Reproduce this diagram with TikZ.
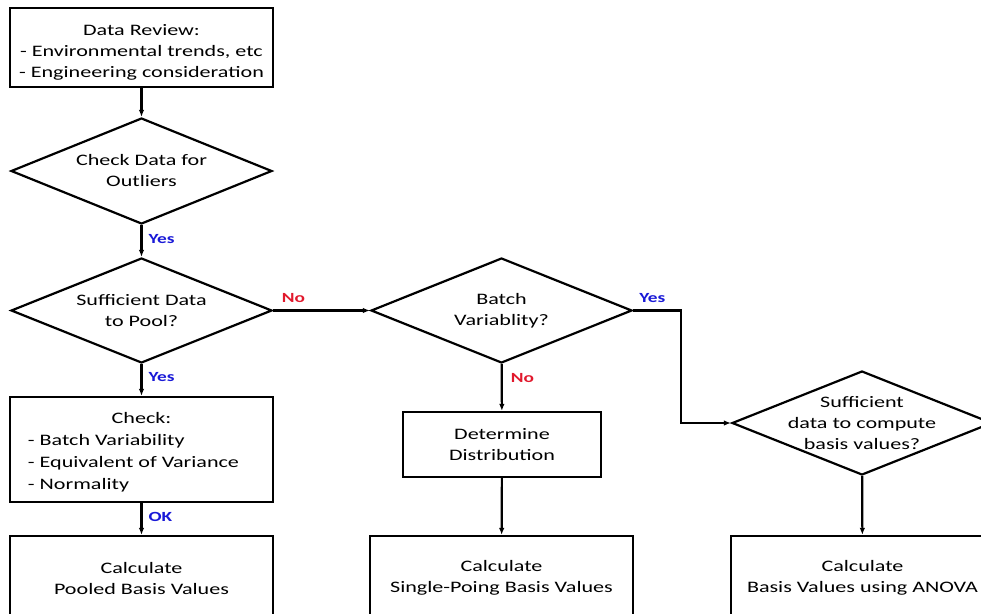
\documentclass[tikz,border=0pt]{standalone}
\usepackage{fontspec}
\setmainfont[FakeStretch=1.38]{Carlito}
\usetikzlibrary{shapes.geometric,arrows.meta}
\definecolor{yesblue}{RGB}{25,25,215}
\definecolor{nored}{RGB}{225,25,45}
\begin{document}
\begin{tikzpicture}[x=1pt,y=-1pt,
  txt/.style={font=\fontsize{16}{21}\selectfont, align=center, inner sep=0pt},
  boxnode/.style={draw, line width=2.2pt, rectangle, inner sep=0pt, font=\fontsize{16}{21}\selectfont, align=center},
  dia/.style={draw, line width=2.2pt, diamond, inner sep=0pt},
  arr/.style={line width=2.2pt, -{Latex[length=7pt,width=5.5pt]}},
  yeslbl/.style={font=\fontsize{14}{16}\selectfont\bfseries, text=yesblue, inner sep=0pt},
  nolbl/.style={font=\fontsize{14}{16}\selectfont\bfseries, text=nored, inner sep=0pt}
]
\useasboundingbox (0,0) rectangle (981,613);
\clip (0,0) rectangle (981,613);

\node[boxnode, minimum width=263pt, minimum height=79pt] (review) at (141.5,47.5)
  {\rule{0pt}{20pt}Data Review:\\- Environmental trends, etc\\- Engineering consideration};
\node[dia, minimum width=261pt, minimum height=106pt,
  label={[txt]center:Check Data for\\Outliers}] (d1) at (141.5,171) {};
\node[dia, minimum width=261pt, minimum height=105pt,
  label={[txt]center:Sufficient Data\\to Pool?}] (d2) at (141.5,310.5) {};
\node[dia, minimum width=261pt, minimum height=105pt,
  label={[txt]center:Batch\\Variablity?}] (d3) at (501.5,310.5) {};
\node[dia, minimum width=260pt, minimum height=104pt,
  label={[txt]center:Sufficient\\data to compute\\basis values?}] (d4) at (862,423) {};
\node[boxnode, minimum width=263pt, minimum height=105pt, font=\fontsize{16}{22}\selectfont] (chk) at (141.5,449.5)
  {\begin{tabular}{@{}l@{\hspace{16pt}}}\multicolumn{1}{@{}c@{}}{\rule{0pt}{21pt}Check:}\\- Batch Variability\\- Equivalent of Variance\\- Normality\end{tabular}};
\node[boxnode, minimum width=198pt, minimum height=65pt] (dist) at (502,444.5)
  {Determine\\Distribution};
\node[boxnode, minimum width=263pt, minimum height=84pt] (pooled) at (141.5,578)
  {Calculate\\Pooled Basis Values};
\node[boxnode, minimum width=263pt, minimum height=84pt] (single) at (501.5,578)
  {Calculate\\Single-Poing Basis Values};
\node[boxnode, minimum width=263pt, minimum height=84pt] (anova) at (862.5,578)
  {Calculate\\Basis Values using ANOVA};
\coordinate (bend) at (681,310.5);

\draw[arr] (review) -- (d1);
\draw[arr] (d1) -- node[yeslbl, right=6pt, pos=0.45]{Yes} (d2);
\draw[arr] (d2.east) -- node[nolbl, pos=0.21, above=7pt]{No} (d3.west);
\draw[arr] (d2) -- node[yeslbl, right=6pt, pos=0.4]{Yes} (chk);
\draw[arr] (chk) -- node[yeslbl, right=6pt, pos=0.45]{OK} (pooled);
\draw[arr] (d3.east) -- node[yeslbl, pos=0.4, above=7pt]{Yes} (bend) |- (d4.west);
\draw[arr] (d3) -- node[nolbl, right=8pt, pos=0.3]{No} (dist);
\draw[arr] (dist) -- (single);
\draw[arr] (d4) -- (anova);
\end{tikzpicture}
\end{document}
